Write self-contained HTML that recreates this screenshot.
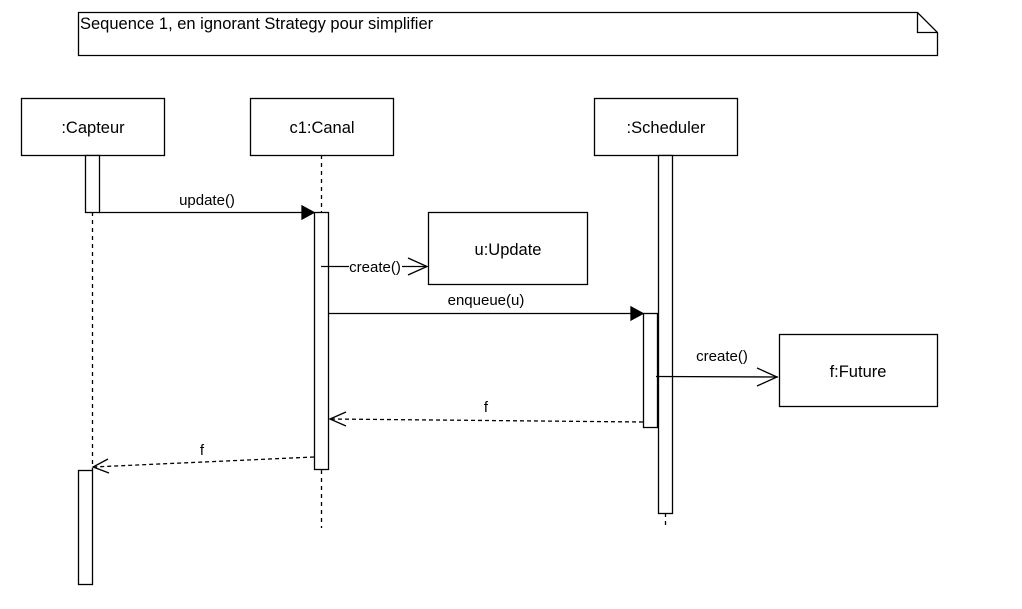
<!DOCTYPE html>
<html><head><style>body{margin:0;background:#fff}svg{display:block}text{font-family:"Liberation Sans",sans-serif;fill:#000}</style></head><body>
<svg width="1022" height="609" viewBox="0 0 1022 609" xmlns="http://www.w3.org/2000/svg">
<g stroke="#000" stroke-width="1.3" fill="#fff">
<path d="M78.5 12.5H917.5L937.5 32.5V55.5H78.5Z"/>
<path d="M917.5 12.5V32.5H937.5" fill="none"/>
<rect x="21.5" y="98.5" width="143" height="57"/>
<rect x="250.5" y="98.5" width="143" height="57"/>
<rect x="594.5" y="98.5" width="143" height="57"/>
<rect x="428.5" y="212.5" width="159" height="72"/>
<rect x="779.5" y="334.5" width="158" height="72"/>
<g stroke-dasharray="4,4" fill="none">
<line x1="92.5" y1="212" x2="92.5" y2="470"/>
<line x1="321.5" y1="155" x2="321.5" y2="212"/>
<line x1="321.5" y1="470" x2="321.5" y2="528"/>
<line x1="665.5" y1="513" x2="665.5" y2="528"/>
</g>
<rect x="85.5" y="155.5" width="14" height="57"/>
<rect x="314.5" y="212.5" width="14" height="257"/>
<rect x="658.5" y="155.5" width="14" height="358"/>
<rect x="643.5" y="313.5" width="14" height="114"/>
<rect x="78.5" y="470.5" width="14" height="114"/>
<line x1="99" y1="212.5" x2="304" y2="212.5"/>
<path d="M302 206L314 212.5L302 219Z" fill="#000"/>
<line x1="328" y1="313.5" x2="633" y2="313.5"/>
<path d="M631 307L643 313.5L631 320Z" fill="#000"/>
<line x1="321" y1="266.5" x2="427" y2="266.5"/>
<path d="M408 258L427 266.5L408 275" fill="none"/>
<line x1="656" y1="376.5" x2="778" y2="377"/>
<path d="M757 368L777 377L757 386" fill="none"/>
<line x1="643" y1="422" x2="330" y2="419" stroke-dasharray="4,3" fill="none"/>
<path d="M346 412L330 419L346 426" fill="none"/>
<line x1="314" y1="457" x2="93" y2="467" stroke-dasharray="4,3" fill="none"/>
<path d="M108 459L93 467L109 473" fill="none"/>
</g>
<rect x="349" y="259" width="53" height="14" fill="#fff"/>
<g font-size="16.5">
<text x="80" y="29">Sequence 1, en ignorant Strategy pour simplifier</text>
<text x="93" y="133" text-anchor="middle">:Capteur</text>
<text x="322" y="133" text-anchor="middle">c1:Canal</text>
<text x="666" y="133" text-anchor="middle">:Scheduler</text>
<text x="508" y="255" text-anchor="middle">u:Update</text>
<text x="858" y="377" text-anchor="middle">f:Future</text>
</g>
<g font-size="15">
<text x="207" y="205" text-anchor="middle">update()</text>
<text x="375" y="272" text-anchor="middle">create()</text>
<text x="486" y="305" text-anchor="middle">enqueue(u)</text>
<text x="722" y="361" text-anchor="middle">create()</text>
<text x="486" y="412" text-anchor="middle">f</text>
<text x="202" y="455" text-anchor="middle">f</text>
</g>
</svg>
</body></html>
